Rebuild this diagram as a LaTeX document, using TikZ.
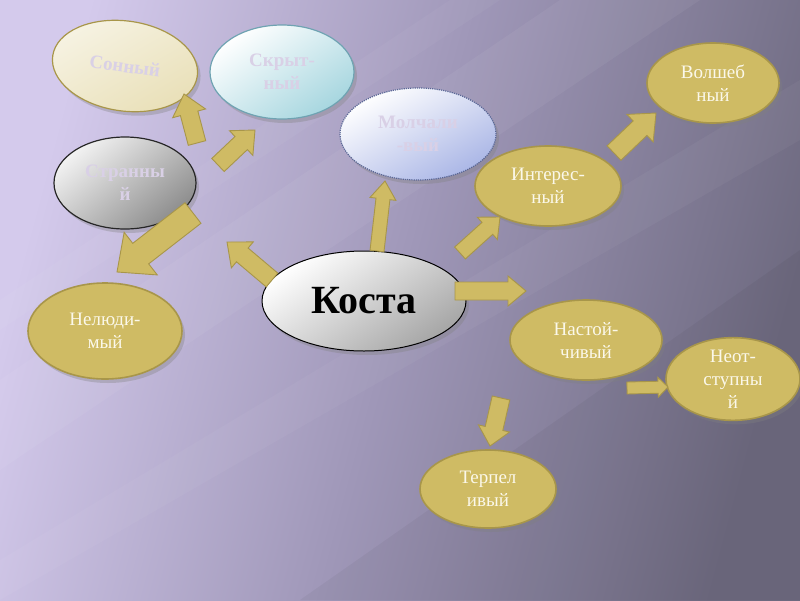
\documentclass[tikz,border=0pt]{standalone}
\usepackage{fontspec}
\setmainfont{Liberation Serif}
\usetikzlibrary{shapes.geometric,shadows,calc}
\definecolor{gold}{HTML}{CFBB64}
\definecolor{goldline}{HTML}{A8964A}
\definecolor{goldtext}{HTML}{FBF8EA}
\definecolor{faint}{HTML}{D9D0E6}
\definecolor{bgl}{HTML}{D4CAEC}
\definecolor{bgm}{HTML}{9F97B8}
\definecolor{bgd}{HTML}{6E6A80}
\definecolor{cyanbot}{HTML}{A6D6DF}
\definecolor{cyanline}{HTML}{6FA3B2}
\definecolor{bluebot}{HTML}{AAB6E6}
\definecolor{blueline}{HTML}{5A6796}
\newcommand\barrow[6]{%
  \path[blockarrow] let \p1=(#1), \p2=(#2),
    \n1={atan2(\y2-\y1,\x2-\x1)}, \n2={veclen(\x2-\x1,\y2-\y1)} in
    [shift={(\p1)}, rotate=\n1]
    (0pt,{-#3*1pt}) -- ({(\n2-#5)*1pt},{-#3*1pt}) -- ({(\n2-#5)*1pt},{-#4*1pt})
    -- ({\n2*1pt},0pt) -- ({(\n2-#5)*1pt},{#4*1pt}) -- ({(\n2-#5)*1pt},{#3*1pt})
    -- (0pt,{#3*1pt}) -- cycle;}
\tikzset{
  bub/.style={ellipse, inner sep=0pt, align=center,
    drop shadow={shadow xshift=3pt, shadow yshift=-4pt, opacity=0.35}},
  goldbub/.style={bub, fill=gold, draw=goldline, line width=1.6pt, text=goldtext,
    font=\fontsize{19}{23}\selectfont},
  palebub/.style={bub, text=faint, line width=1.2pt,
    font=\bfseries\fontsize{19}{23}\selectfont},
  blockarrow/.style={fill=gold, draw=goldline, line width=0.9pt, line join=miter},
}
\begin{document}
\begin{tikzpicture}[x=1pt, y=-1pt]
\useasboundingbox (0,0) rectangle (800,600);
% background
\shade[left color=bgl, right color=bgd, middle color=bgm, shading angle=75] (0,0) rectangle (800,600);
\fill[white, opacity=0.05] (0,470) -- (0,380) -- (560,0) -- (700,0) -- cycle;
\fill[white, opacity=0.04] (0,330) -- (0,300) -- (450,0) -- (500,0) -- cycle;
\fill[white, opacity=0.04] (0,600) -- (0,560) -- (800,80) -- (800,140) -- cycle;
\fill[black, opacity=0.04] (300,600) -- (800,250) -- (800,600) -- cycle;

% nodes
\node[palebub, minimum width=146pt, minimum height=90pt, rotate=-8,
  top color=white!70!gold!60, bottom color=gold!45!white, shading angle=30,
  draw=goldline] (sonny) at (125,66) {Сонный};
\node[palebub, minimum width=144pt, minimum height=94pt,
  top color=white, bottom color=cyanbot, shading angle=35,
  draw=cyanline] (skryt) at (282,72) {Скрыт-\\ный};
\node[palebub, minimum width=142pt, minimum height=92pt,
  top color=white!95!black, bottom color=black!45, shading angle=40,
  draw=black!85] (strann) at (125,183) {Странны\\й};
\node[palebub, minimum width=156pt, minimum height=92pt,
  top color=white, bottom color=bluebot, shading angle=30,
  draw=blueline, densely dotted] (molch) at (418,134) {Молчали\\-вый};
\node[bub, minimum width=204pt, minimum height=100pt,
  top color=white, bottom color=black!35, shading angle=35, draw=black, line width=1pt,
  font=\bfseries\fontsize{40}{44}\selectfont] (kosta) at (364,301) {Коста};
\node[goldbub, minimum width=146pt, minimum height=80pt] (inter) at (548,186) {Интерес-\\ный};
\node[goldbub, minimum width=132pt, minimum height=80pt] (volsh) at (713,83) {Волшеб\\ный};
\node[goldbub, minimum width=154pt, minimum height=96pt] (nelud) at (105,331) {Нелюди-\\мый};
\node[goldbub, minimum width=152pt, minimum height=80pt] (nast) at (586,340) {Настой-\\чивый};
\node[goldbub, minimum width=134pt, minimum height=80pt] (neot) at (733,379) {Неот-\\ступны\\й};
\node[goldbub, minimum width=136pt, minimum height=78pt] (terp) at (488,489) {Терпел\\ивый};

% arrow end points
\coordinate (a1s) at (197,143); \coordinate (a1e) at (184,94);
\coordinate (a2s) at (218,165); \coordinate (a2e) at (255,130);
\coordinate (a3s) at (193,213); \coordinate (a3e) at (117,272);
\coordinate (a4s) at (272,280); \coordinate (a4e) at (227,242);
\coordinate (a5s) at (377,251); \coordinate (a5e) at (385,181);
\coordinate (a6s) at (460,253); \coordinate (a6e) at (500,217);
\coordinate (a7s) at (455,291); \coordinate (a7e) at (526,291);
\coordinate (a8s) at (614,153); \coordinate (a8e) at (656,113);
\coordinate (a9s) at (627,388); \coordinate (a9e) at (668,387);
\coordinate (a10s) at (501,398); \coordinate (a10e) at (490,446);

\barrow{a1s}{a1e}{9}{17}{20}{}
\barrow{a2s}{a2e}{9}{17}{19}{}
\barrow{a3s}{a3e}{13}{27}{30}{}
\barrow{a4s}{a4e}{9}{17}{20}{}
\barrow{a5s}{a5e}{7}{13}{18}{}
\barrow{a6s}{a6e}{8}{15}{17}{}
\barrow{a7s}{a7e}{9}{15}{18}{}
\barrow{a8s}{a8e}{10}{19}{22}{}
\barrow{a9s}{a9e}{6}{10}{10}{}
\barrow{a10s}{a10e}{9}{16}{18}{}
\end{tikzpicture}
\end{document}
